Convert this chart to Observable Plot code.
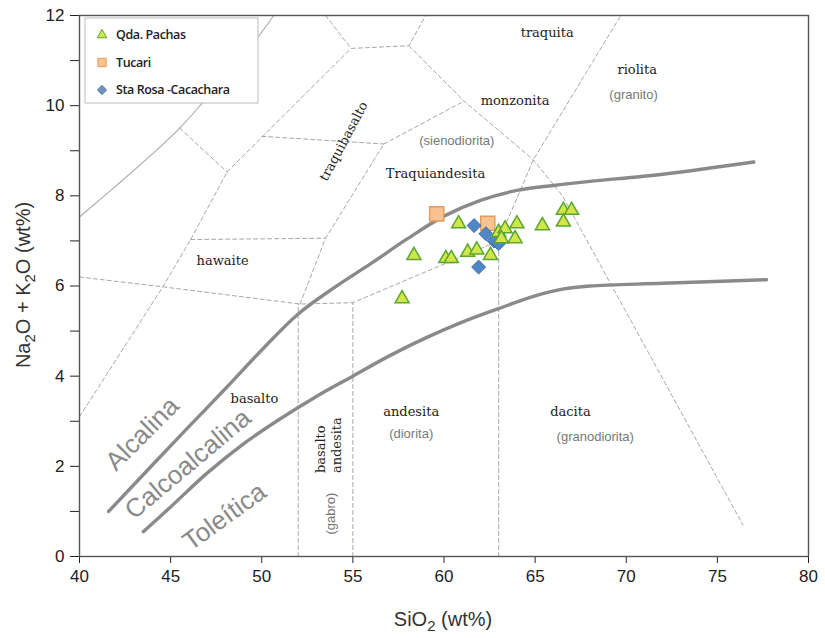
<!DOCTYPE html>
<html><head><meta charset="utf-8">
<script src="https://cdn.jsdelivr.net/npm/d3@7"></script>
<script src="https://cdn.jsdelivr.net/npm/@observablehq/plot@0.6"></script>
<style>body{margin:0;background:#fff} #chart svg{display:block}</style>
</head><body><div id="chart"></div>
<script>
// ---- data ----
const xTicks = [40, 45, 50, 55, 60, 65, 70, 75, 80];
const yTicks = [0, 1, 2, 3, 4, 5, 6, 7, 8, 9, 10, 11, 12];

const pachasSiO2 = [57.7, 58.35, 60.1, 60.4, 60.8, 61.3, 61.8, 62.55, 63.0, 63.35, 63.15, 64.0, 63.9, 65.4, 66.55, 67.0, 66.55];
const pachasAlk  = [5.72, 6.68, 6.61, 6.61, 7.38, 6.75, 6.8, 6.68, 7.19, 7.27, 7.05, 7.38, 7.05, 7.34, 7.68, 7.68, 7.42];
const tucariSiO2 = [59.6, 62.4];
const tucariAlk  = [7.6, 7.39];
const staRosaSiO2 = [61.65, 62.3, 61.9, 62.75, 63.0];
const staRosaAlk  = [7.34, 7.16, 6.42, 7.0, 6.94];

const seriesNames = ["Qda. Pachas", "Tucari", "Sta Rosa -Cacachara"];

// series boundary curves [SiO2, alkalis]
const alkalineCurve = [[41.6,1.0],[44,2.03],[46,2.88],[48,3.72],[50,4.58],[52,5.38],[54,5.97],[56,6.5],[58,7.05],[60,7.55],[62,7.9],[64,8.12],[66,8.23],[68,8.32],[72,8.48],[77,8.75]];
const calcAlkCurve  = [[43.5,0.55],[45,1.1],[47,1.85],[49,2.5],[51,3.05],[53,3.55],[55,4.0],[57,4.45],[59,4.85],[61,5.2],[63,5.5],[65,5.78],[66.5,5.93],[68,6.0],[72,6.06],[77.7,6.14]];
const thinCurve     = [[40,7.53],[42,8.22],[44,8.93],[45.54,9.52],[47,10.18],[49,11.1],[50.66,12]];

// field boundaries (dashed)
const fieldLines = [
  [[40,3.1],[44.6,6.0],[46.1,7.03],[48.1,8.53]],
  [[45.5,9.5],[48.1,8.53]],
  [[48.1,8.53],[54.9,11.27]],
  [[53.5,12],[54.9,11.27],[58.07,11.33],[59.0,12]],
  [[58.07,11.33],[61.1,10.1],[64.9,8.8],[66.5,8.0],[76.4,0.7]],
  [[63,0],[63,7],[64.9,8.8],[69.7,12]],
  [[40,6.2],[44.6,5.98],[52.1,5.6],[55,5.63],[63,7]],
  [[52,0],[52,5.6]],
  [[55,0],[55,5.63]],
  [[46.1,7.03],[53.5,7.06]],
  [[52.1,5.6],[53.5,7.06],[56.7,9.15]],
  [[50.0,9.32],[56.7,9.15]],
  [[56.7,9.15],[61.1,10.1]]
];

// field names
const rockNames   = ["traquita","riolita","monzonita","Traquiandesita","hawaite","basalto","andesita","dacita"];
const rockSiO2    = [65.66, 70.6, 63.9, 59.53, 47.85, 49.6, 58.2, 66.94];
const rockAlk     = [11.62, 10.8, 10.1, 8.49, 6.55, 3.5, 3.22, 3.2];
const plutonNames = ["(granito)","(sienodiorita)","(diorita)","(granodiorita)"];
const plutonSiO2  = [70.4, 60.7, 58.2, 68.3];
const plutonAlk   = [10.24, 9.21, 2.72, 2.66];
const seriesLabels = ["Alcalina","Calcoalcalina","Toleítica"];
const seriesLabSiO2 = [43.45, 45.95, 47.95];
const seriesLabAlk  = [2.72, 2.05, 0.88];

// ---- helpers ----
const toRows = (lines) => lines.flatMap((pts, k) => pts.map(([x, y]) => ({x, y, k})));
const idx = (a) => a.map((_, i) => i);
const serif = "'DejaVu Serif', 'Liberation Serif', serif";
const sans = "'Liberation Sans', Arial, sans-serif";

const chart = Plot.plot({
  width: 825, height: 638,
  marginLeft: 79, marginRight: 17, marginTop: 15, marginBottom: 82,
  style: {fontFamily: sans, fontSize: "17px", color: "#222", background: "#fff"},
  x: {domain: [40, 80], ticks: xTicks, tickSize: 7, tickPadding: 6, label: null},
  y: {domain: [0, 12], ticks: yTicks, tickSize: 9, tickPadding: 6, label: null,
      tickFormat: d => d % 2 === 0 ? d : ""},
  marks: [
    Plot.line(toRows(fieldLines), {x: "x", y: "y", z: "k", stroke: "#9c9c9c", strokeWidth: 0.9, strokeDasharray: "4,3", clip: true}),
    Plot.line(thinCurve, {x: d => d[0], y: d => d[1], stroke: "#a8a8a8", strokeWidth: 1.1, curve: "catmull-rom", clip: true}),
    Plot.line(alkalineCurve, {x: d => d[0], y: d => d[1], stroke: "#8a8a8a", strokeWidth: 3.4, curve: "catmull-rom"}),
    Plot.line(calcAlkCurve, {x: d => d[0], y: d => d[1], stroke: "#8a8a8a", strokeWidth: 3.4, curve: "catmull-rom"}),
    Plot.frame({stroke: "#555", strokeWidth: 1.4}),
    // labels
    Plot.text(idx(rockNames), {x: i => rockSiO2[i], y: i => rockAlk[i], text: i => rockNames[i],
      fontFamily: serif, fontSize: 13, fill: "#222"}),
    Plot.text(["traquibasalto"], {x: [54.5], y: [9.21], text: d => d, rotate: -62,
      fontFamily: serif, fontSize: 13, fill: "#222"}),
    Plot.text(["basalto", "andesita"], {x: [53.22, 54.1], y: [1.85, 1.85], text: d => d, rotate: -90,
      textAnchor: "start", fontFamily: serif, fontSize: 13, fill: "#222"}),
    Plot.text(idx(plutonNames), {x: i => plutonSiO2[i], y: i => plutonAlk[i], text: i => plutonNames[i],
      fontFamily: sans, fontSize: 13, fill: "#777"}),
    Plot.text(["(gabro)"], {x: [53.78], y: [0.95], text: d => d, rotate: -90,
      fontFamily: sans, fontSize: 13, fill: "#777"}),
    Plot.text(idx(seriesLabels), {x: i => seriesLabSiO2[i], y: i => seriesLabAlk[i], text: i => seriesLabels[i],
      rotate: i => [-45, -40, -36][i], fontFamily: sans, fontSize: 26, fill: "#8a8a8a"}),
    // data
    Plot.dot(idx(tucariSiO2), {x: i => tucariSiO2[i], y: i => tucariAlk[i], symbol: "square", r: 8,
      fill: "#f9c391", stroke: "#e29b5c", strokeWidth: 1.4}),
    Plot.dot(idx(staRosaSiO2), {x: i => staRosaSiO2[i], y: i => staRosaAlk[i], symbol: "diamond2", r: 6.3,
      fill: "#4f86c6", stroke: "#3b6fae", strokeWidth: 1}),
    Plot.dot(idx(pachasSiO2), {x: i => pachasSiO2[i], y: i => pachasAlk[i], symbol: "triangle", r: 5.2,
      fill: "#d2e64a", stroke: "#5aa630", strokeWidth: 1.5})
  ]
});

document.getElementById("chart").appendChild(chart);

// ---- axis titles & legend ----
const svg = d3.select(chart);
function buildTitle(t, parts) {
  let down = false;
  parts.forEach(([s, sub]) => {
    const sp = t.append("tspan").text(s);
    if (sub && !down) { sp.attr("dy", 5).style("font-size", "15px"); down = true; }
    else if (!sub && down) { sp.attr("dy", -5); down = false; }
  });
}
const yt = svg.append("text")
  .attr("transform", "translate(30,285) rotate(-90)")
  .attr("text-anchor", "middle")
  .style("font-family", sans).style("font-size", "20px").attr("fill", "#333");
buildTitle(yt, [["Na"], ["2", true], ["O + K"], ["2", true], ["O (wt%)"]]);
const xt = svg.append("text")
  .attr("x", 443).attr("y", 626)
  .attr("text-anchor", "middle")
  .style("font-family", sans).style("font-size", "20px").attr("fill", "#333");
buildTitle(xt, [["SiO"], ["2", true], [" (wt%)"]]);

const lg = svg.append("g").attr("text-anchor", "start");
lg.append("rect").attr("x", 85).attr("y", 18).attr("width", 173).attr("height", 85)
  .attr("fill", "#fff").attr("stroke", "#bdbdbd").attr("stroke-width", 1);
const legendSyms = [
  {sym: d3.symbolTriangle, size: 40, fill: "#d2e64a", stroke: "#5aa630"},
  {sym: d3.symbolSquare, size: 70, fill: "#f9c391", stroke: "#e29b5c"},
  {sym: d3.symbolDiamond2, size: 55, fill: "#6f93bd", stroke: "#5a7ea8"}
];
seriesNames.forEach((name, i) => {
  const cy = 35 + i * 27.5;
  lg.append("path").attr("d", d3.symbol(legendSyms[i].sym, legendSyms[i].size)())
    .attr("transform", `translate(102,${cy})`)
    .attr("fill", legendSyms[i].fill).attr("stroke", legendSyms[i].stroke).attr("stroke-width", 1);
  lg.append("text").attr("x", 116).attr("y", cy).attr("dy", "0.35em")
    .attr("text-anchor", "start")
    .style("font-family", "'Open Sans', sans-serif").style("font-size", "12.5px").style("font-weight", 600)
    .style("letter-spacing", "-0.4px").attr("fill", "#222").text(name);
});
</script>
</body></html>
